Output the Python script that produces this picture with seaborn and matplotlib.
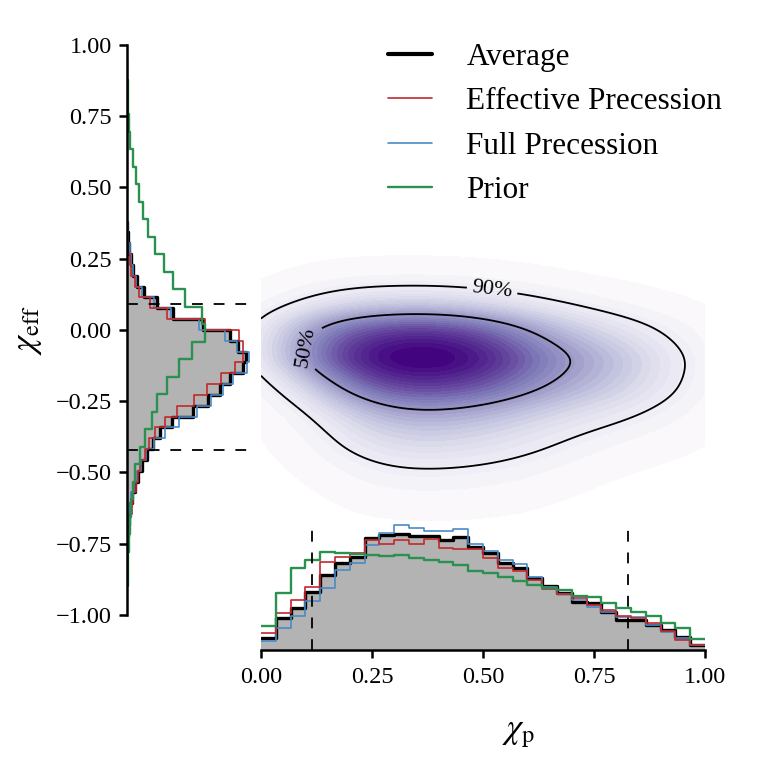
import numpy as np
import matplotlib
matplotlib.use("Agg")
import matplotlib.pyplot as plt
from matplotlib.lines import Line2D
import seaborn as sns

# --- chi_p marginals: 30 bins on [0, 1], normalised heights
chip_edges = np.linspace(0.0, 1.0, 31)
chip_average = [0.18, 0.48, 0.63, 0.87, 1.12, 1.30, 1.39, 1.67, 1.72, 1.73,
                1.70, 1.70, 1.64, 1.69, 1.54, 1.45, 1.30, 1.22, 1.07, 0.96,
                0.85, 0.72, 0.70, 0.57, 0.45, 0.45, 0.37, 0.30, 0.19, 0.07]
chip_effective = [0.25, 0.55, 0.75, 0.94, 1.31, 1.39, 1.45, 1.64, 1.58, 1.64,
                  1.58, 1.66, 1.52, 1.51, 1.51, 1.37, 1.22, 1.18, 1.04, 0.91,
                  0.84, 0.78, 0.67, 0.60, 0.51, 0.48, 0.40, 0.28, 0.15, 0.07]
chip_full = [0.13, 0.33, 0.51, 0.73, 0.93, 1.19, 1.30, 1.57, 1.75, 1.87,
             1.82, 1.78, 1.78, 1.81, 1.58, 1.48, 1.34, 1.28, 1.09, 0.94,
             0.84, 0.75, 0.64, 0.57, 0.49, 0.49, 0.37, 0.27, 0.18, 0.07]
chip_prior = [0.36, 0.85, 1.22, 1.34, 1.46, 1.45, 1.43, 1.42, 1.40, 1.42,
              1.37, 1.34, 1.31, 1.27, 1.18, 1.15, 1.09, 1.03, 0.97, 0.93,
              0.90, 0.81, 0.79, 0.70, 0.63, 0.57, 0.51, 0.40, 0.33, 0.16]

# --- chi_eff marginals (bottom to top)
chieff_post_edges = np.linspace(-0.76, 0.38, 31)
chieff_prior_edges = np.linspace(-0.90, 0.94, 31)
chieff_average = [0.01, 0.02, 0.05, 0.07, 0.11, 0.18, 0.25, 0.34, 0.45, 0.59,
                  0.75, 1.02, 1.50, 1.84, 2.11, 2.34, 2.64, 2.70, 2.52, 2.34,
                  1.73, 1.05, 0.68, 0.39, 0.23, 0.14, 0.09, 0.05, 0.02, 0.01]
chieff_effective = [0.02, 0.05, 0.07, 0.11, 0.14, 0.20, 0.25, 0.30, 0.41, 0.50,
                    0.64, 0.86, 1.14, 1.52, 1.82, 2.14, 2.45, 2.64, 2.64, 2.55,
                    1.77, 0.91, 0.52, 0.27, 0.18, 0.10, 0.06, 0.02, 0.01, 0.00]
chieff_full = [0.01, 0.02, 0.03, 0.06, 0.09, 0.16, 0.23, 0.32, 0.43, 0.61,
               0.86, 1.18, 1.59, 1.91, 2.18, 2.41, 2.73, 2.77, 2.50, 2.23,
               1.64, 1.00, 0.61, 0.34, 0.20, 0.14, 0.09, 0.06, 0.03, 0.02]
chieff_prior = [0.02, 0.03, 0.04, 0.06, 0.09, 0.14, 0.19, 0.30, 0.41, 0.57,
                0.68, 0.91, 1.18, 1.48, 1.77, 1.70, 1.32, 1.05, 0.83, 0.64,
                0.48, 0.37, 0.28, 0.20, 0.13, 0.07, 0.05, 0.03, 0.02, 0.01]

# 90% credible bounds (dashed lines)
chip_bounds = [0.114, 0.826]
chieff_bounds = [-0.421, 0.091]

# --- joint density read on a coarse grid (rows: chi_eff, cols: chi_p)
grid_chip = [0.05, 0.15, 0.25, 0.35, 0.45, 0.55, 0.65, 0.75, 0.85, 0.95]
grid_chieff = [0.2, 0.1, 0.0, -0.1, -0.2, -0.3, -0.4, -0.5, -0.6]
grid_density = [
    [0.0, 0.1, 0.12, 0.12, 0.12, 0.08, 0.04, 0.0, 0.0, 0.0],
    [0.17, 0.75, 1.0, 1.05, 1.0, 0.72, 0.5, 0.25, 0.13, 0.04],
    [1.3, 2.9, 3.5, 3.8, 3.6, 2.8, 1.8, 1.2, 0.75, 0.35],
    [1.5, 3.4, 4.5, 4.8, 4.6, 3.8, 2.5, 2.1, 1.35, 0.6],
    [0.35, 1.8, 3.3, 3.6, 3.4, 2.9, 2.0, 1.7, 1.1, 0.5],
    [0.08, 0.65, 1.7, 1.9, 1.8, 1.45, 1.05, 0.8, 0.5, 0.25],
    [0.03, 0.35, 1.05, 1.15, 1.1, 0.85, 0.6, 0.3, 0.15, 0.1],
    [0.0, 0.12, 0.45, 0.5, 0.45, 0.38, 0.25, 0.05, 0.05, 0.0],
    [0.0, 0.0, 0.18, 0.18, 0.18, 0.12, 0.05, 0.0, 0.0, 0.0],
]

labels = ["Average", "Effective Precession", "Full Precession", "Prior"]
colors = ["black", "#c3282d", "#4a8ac6", "#2b9150"]
widths = [2.4, 1.2, 1.2, 1.7]

chip_ticks = [0.0, 0.25, 0.5, 0.75, 1.0]
chip_ticklabels = ["0.00", "0.25", "0.50", "0.75", "1.00"]
chieff_ticks = [-1.0, -0.75, -0.5, -0.25, 0.0, 0.25, 0.5, 0.75, 1.0]
chieff_ticklabels = ["\u22121.00", "\u22120.75", "\u22120.50", "\u22120.25",
                     "0.00", "0.25", "0.50", "0.75", "1.00"]

sns.set_style("ticks")
plt.rcParams["font.family"] = ["Liberation Serif", "DejaVu Serif"]
plt.rcParams["mathtext.fontset"] = "stix"
for key in ["axes.edgecolor", "xtick.color", "ytick.color", "text.color", "axes.labelcolor"]:
    plt.rcParams[key] = "black"


def centers(edges):
    return list((edges[:-1] + edges[1:]) / 2)


fig = plt.figure(figsize=(7.66, 7.58), dpi=100)
ax_eff = fig.add_axes([0.1658, 0.1887, 0.1632, 0.752])
ax_kde = fig.add_axes([0.3407, 0.1887, 0.5796, 0.752])
ax_p = fig.add_axes([0.3407, 0.1425, 0.5796, 0.1675])

# chi_p histogram (bottom)
chip_series = [chip_average, chip_effective, chip_full, chip_prior]
sns.histplot(x=centers(chip_edges), weights=chip_average, bins=list(chip_edges),
             element="step", fill=True, color="#b3b3b3", alpha=1, linewidth=0, ax=ax_p)
for i in [0, 2, 1, 3]:
    sns.histplot(x=centers(chip_edges), weights=chip_series[i], bins=list(chip_edges),
                 element="step", fill=False, color=colors[i], linewidth=widths[i], ax=ax_p)
for b in chip_bounds:
    ax_p.axvline(b, color="k", lw=1.3, ls=(0, (6, 6)))

# chi_eff histogram (left)
chieff_series = [chieff_average, chieff_effective, chieff_full, chieff_prior]
chieff_edges = [chieff_post_edges] * 3 + [chieff_prior_edges]
sns.histplot(y=centers(chieff_post_edges), weights=chieff_average, bins=list(chieff_post_edges),
             element="step", fill=True, color="#b3b3b3", alpha=1, linewidth=0, ax=ax_eff)
for i in [0, 2, 1, 3]:
    sns.histplot(y=centers(chieff_edges[i]), weights=chieff_series[i], bins=list(chieff_edges[i]),
                 element="step", fill=False, color=colors[i], linewidth=widths[i], ax=ax_eff)
for b in chieff_bounds:
    ax_eff.axhline(b, color="k", lw=1.3, ls=(0, (6, 6)))

# joint density
gx, gy = np.meshgrid(grid_chip, grid_chieff)
kde_kws = dict(x=gx.ravel(), y=gy.ravel(), weights=np.ravel(grid_density),
               clip=((0, 1), (-1, 1)), bw_adjust=0.75, ax=ax_kde)
sns.kdeplot(fill=True, cmap="Purples", levels=30, thresh=0.006, **kde_kws)
sns.kdeplot(levels=[0.1, 0.5], colors="k", linewidths=1.3, **kde_kws)
ax_kde.set_xlim(0, 1)
ax_kde.set_ylim(-1, 1)
cs = ax_kde.collections[-1]
ax_kde.clabel(cs, fmt={cs.levels[0]: "90%", cs.levels[1]: "50%"},
              manual=[(0.52, 0.13), (0.08, -0.05)], fontsize=16, inline=True)
ax_kde.set_axis_off()

# axes styling
ax_p.set_xlim(0, 1)
ax_p.set_ylim(0, 1.90)
ax_p.set_xticks(chip_ticks, chip_ticklabels)
ax_p.set_yticks([])
ax_p.set_ylabel("")
for s in ["left", "top", "right"]:
    ax_p.spines[s].set_visible(False)
ax_p.spines["bottom"].set_linewidth(1.8)
ax_p.tick_params(axis="x", length=6, width=1.8, labelsize=17.5, pad=6)
ax_p.set_xlabel(r"$\chi_{\rm p}$", fontsize=25)
ax_p.xaxis.set_label_coords(0.581, -0.53)

ax_eff.set_ylim(-1, 1)
ax_eff.set_xlim(0, 2.84)
ax_eff.set_yticks(chieff_ticks, chieff_ticklabels)
ax_eff.set_xticks([])
ax_eff.set_xlabel("")
for s in ["bottom", "top", "right"]:
    ax_eff.spines[s].set_visible(False)
ax_eff.spines["left"].set_linewidth(1.8)
ax_eff.tick_params(axis="y", length=6, width=1.8, labelsize=17.5, pad=5)
ax_eff.set_ylabel(r"$\chi_{\rm eff}$", fontsize=25)
ax_eff.yaxis.set_label_coords(-0.664, 0.5)

handles = [Line2D([], [], color=c, lw=w) for c, w in zip(colors, widths)]
handles[0].set_linewidth(3.0)
fig.legend(handles, labels, loc="upper left", bbox_to_anchor=(0.470, 0.981),
           frameon=False, fontsize=22.5, handlelength=1.4, handletextpad=1.1,
           labelspacing=0.5)

fig.savefig("out.png", dpi=100)
